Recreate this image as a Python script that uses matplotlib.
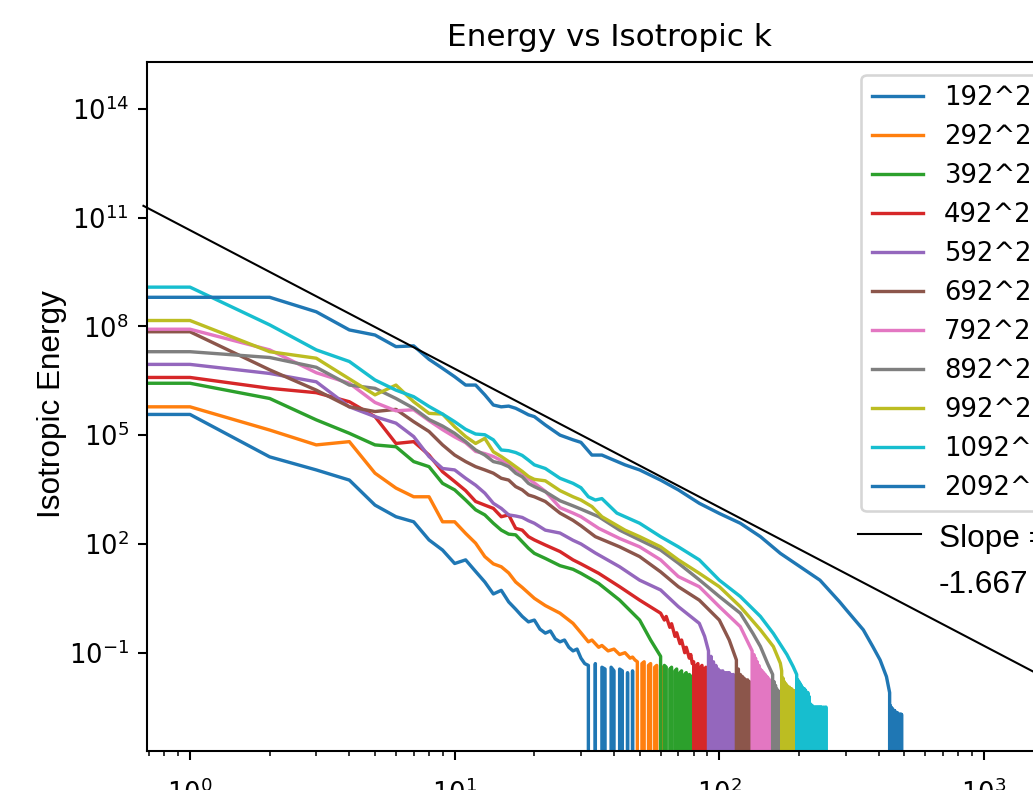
import matplotlib
matplotlib.use("Agg")
import matplotlib.pyplot as plt
from matplotlib.lines import Line2D
from matplotlib.ticker import NullLocator
import numpy as np

# figure is a crop of a bigger render: 1033x790 px at ~186 dpi
W, H, DPI = 1033, 790, 186.4

LABELS = ["192^2", "292^2", "392^2", "492^2", "592^2", "692^2",
          "792^2", "892^2", "992^2", "1092^2", "2092^2"]

K20 = list(range(1, 21))

# log10(energy) at k, then a tail of bins (None = empty bin)
K_192 = list(range(1, 31))
LOGE_192 = [5.57, 4.40, 4.04, 3.76, 3.07, 2.75, 2.61, 2.11, 1.83, 1.46,
            1.56, 1.24, 0.95, 0.62, 0.72, 0.40, 0.20, 0.00, -0.15, -0.10,
            -0.35, -0.46, -0.40, -0.62, -0.70, -0.65, -0.85, -0.95, -0.90, -1.15]
TAIL_192 = (31, [-1.30, -1.35, None, -1.30, None, -1.40, -1.45, None, -1.40,
                 -1.50, None, -1.45, -1.50, None, -1.55, None, -1.50, None])

K_292 = list(range(1, 17)) + [17, 18, 20, 22, 25, 28, 30, 32, 33, 35, 36, 38, 40, 42, 44, 46, 47]
LOGE_292 = [5.78, 5.14, 4.73, 4.82, 3.95, 3.54, 3.30, 3.30, 2.61, 2.61,
            2.29, 2.02, 1.65, 1.45, 1.37, 1.20, 0.95, 0.80, 0.50, 0.30,
            0.09, -0.19, -0.45, -0.70, -0.65, -0.85, -0.80, -0.95, -0.90, -1.05,
            -1.00, -1.15, -1.12]
TAIL_292 = (48, [-1.20, -1.25, None, -1.30, -1.25, None, -1.35, -1.30, None,
                 -1.40, -1.35, None, -1.45, -1.40, None])

K_392 = K20 + [22, 25, 28, 30, 35, 42, 50, 55, 60]
LOGE_392 = [6.43, 6.01, 5.42, 5.05, 4.73, 4.68, 4.27, 4.13, 3.67, 3.49,
            3.21, 2.94, 2.80, 2.57, 2.38, 2.27, 2.25, 2.06, 1.88, 1.74,
            1.60, 1.40, 1.30, 1.19, 0.91, 0.45, -0.10, -0.65, -1.10]
TAIL_392 = (61, [None, -1.35, -1.40, None, -1.45, -1.40, None, -1.50, -1.45, None,
                 -1.55, -1.50, None, -1.60, -1.55, None, -1.60, -1.65, None])

K_492 = K20 + [22, 25, 28, 30, 35, 42, 50, 60, 62, 63, 65, 66, 68, 69, 71, 72, 74, 75, 77, 78]
LOGE_492 = [6.59, 6.29, 6.17, 5.92, 5.51, 4.77, 4.82, 4.45, 3.99, 3.72,
            3.47, 3.17, 3.07, 2.98, 2.75, 2.80, 2.43, 2.38, 2.20, 2.11,
            1.97, 1.79, 1.56, 1.45, 1.19, 0.82, 0.45, 0.09, -0.10, 0.00,
            -0.30, -0.20, -0.55, -0.45, -0.75, -0.65, -1.00, -0.85, -1.15, -1.05]
TAIL_492 = (79, [-1.30, -1.25, None, -1.35, -1.30, None, -1.40, -1.35, None,
                 -1.45, -1.40, -1.50, None])

K_592 = K20 + [22, 25, 28, 30, 34, 42, 50, 60, 70, 84, 88]
LOGE_592 = [6.95, 6.70, 6.47, 5.78, 5.51, 5.33, 4.96, 4.41, 4.08, 4.04,
            3.81, 3.62, 3.40, 3.12, 2.98, 2.80, 2.77, 2.73, 2.64, 2.57,
            2.38, 2.30, 2.10, 2.00, 1.75, 1.37, 1.00, 0.73, 0.27, -0.19,
            -0.55]
TAIL_592 = (91, [-0.95, None, -1.10, None, -1.25, None, -1.35, None, -1.45, None,
                 -1.50, None, -1.50, None, -1.55, None, -1.55, None, -1.55, None,
                 -1.60, None, -1.60, None, -1.65, None, -1.65, None])

K_692 = K20 + [22, 25, 28, 30, 34, 42, 50, 60, 70, 84, 100, 109, 116]
LOGE_692 = [7.85, 6.80, 6.24, 5.78, 5.65, 5.71, 5.37, 5.10, 4.73, 4.45,
            4.27, 4.13, 4.04, 3.95, 3.81, 3.76, 3.58, 3.49, 3.35, 3.30,
            3.17, 2.85, 2.65, 2.50, 2.20, 1.92, 1.65, 1.23, 0.82, 0.45,
            -0.10, -0.65, -1.20]
TAIL_692 = (117, [None, -1.45, None, -1.60, None, -1.65, None, -1.70, None, -1.75,
                  None, -1.75, None, -1.80, None, -1.85, None, -1.85, None, -1.90, None])

K_792 = K20 + [22, 25, 28, 30, 35, 42, 50, 60, 70, 84, 100, 120, 127, 133]
LOGE_792 = [7.92, 7.35, 6.72, 6.43, 5.90, 5.67, 5.70, 5.40, 5.15, 4.95,
            4.79, 4.55, 4.49, 4.41, 4.30, 4.20, 4.05, 3.95, 3.80, 3.68,
            3.45, 3.00, 2.85, 2.75, 2.43, 2.15, 1.92, 1.56, 1.10, 0.82,
            0.27, -0.28, -0.65, -0.95]
TAIL_792 = (134, [None, -1.05, None, -1.15, None, -1.25, None, -1.35, None, -1.45,
                  None, -1.50, None, -1.55, None, -1.60, None, -1.65, None, -1.70,
                  None, -1.75, None, -1.80, None, -1.85, None])

K_892 = K20 + [22, 25, 28, 30, 35, 42, 50, 60, 70, 84, 100, 120, 134, 143, 152, 159]
LOGE_892 = [7.30, 7.14, 6.87, 6.38, 6.29, 6.01, 5.74, 5.43, 5.25, 5.05,
            4.82, 4.59, 4.45, 4.27, 4.22, 4.13, 3.95, 3.85, 3.67, 3.58,
            3.44, 3.19, 3.05, 2.96, 2.75, 2.38, 2.11, 1.83, 1.47, 1.01,
            0.55, 0.09, -0.47, -0.83, -1.29, -1.60]
TAIL_892 = (160, [None, -1.80, None, -1.90, None, -2.00, None, -2.05, None, -2.10,
                  None, -2.10, -2.15, None])

K_992 = K20 + [22, 25, 28, 30, 33, 36, 44, 50, 60, 70, 84, 100, 120, 143, 160, 170, 172]
LOGE_992 = [8.16, 7.30, 7.12, 6.55, 6.11, 6.38, 5.92, 5.60, 5.58, 5.23,
            4.96, 4.77, 4.91, 4.54, 4.41, 4.27, 4.13, 4.00, 3.86, 3.78,
            3.74, 3.47, 3.30, 3.21, 3.03, 2.75, 2.38, 2.20, 1.92, 1.56,
            1.19, 0.82, 0.27, -0.37, -0.83, -1.29, -1.50]
TAIL_992 = (173, [None, -1.70, None, -1.80, None, -1.85, None, -1.90, None, -1.95,
                  None, -1.95, None, -2.00, None, -2.00, None, -2.05, None, -2.05,
                  None, -2.10, None, -2.10, -2.10, None])

K_1092 = K20 + [22, 25, 28, 30, 32, 34, 36, 41, 50, 60, 70, 84, 100, 120, 143, 160, 180, 190, 196]
LOGE_1092 = [9.08, 8.04, 7.35, 7.03, 6.52, 6.24, 6.06, 5.79, 5.58, 5.37,
             5.16, 5.03, 5.01, 4.87, 4.59, 4.57, 4.52, 4.44, 4.31, 4.18,
             4.08, 3.81, 3.67, 3.55, 3.30, 3.21, 3.25, 2.85, 2.57, 2.20,
             1.92, 1.56, 1.00, 0.55, 0.00, -0.47, -1.05, -1.38, -1.60]
TAIL_1092 = (197, [None, -1.75, None, -1.80, None, -1.85, None, -1.90, None, -1.95,
                   None, -2.00, None, -2.00, None, -2.05, None, -2.10, None, -2.10,
                   None, -2.20, None, -2.40, None, -2.45, None, -2.45, None, -2.50,
                   None, -2.50, None, -2.50, None, -2.50, None, -2.50, None, -2.50,
                   None, -2.50, None, -2.50, None, -2.50, None, -2.50, None, -2.55,
                   None, -2.50, None, -2.55, None, -2.50, -2.50, None])

K_2092 = K20 + [22, 25, 28, 30, 33, 36, 44, 50, 60, 70, 84, 100, 120, 143, 170, 202,
                240, 285, 302, 350, 380, 405, 428, 440]
LOGE_2092 = [8.80, 8.80, 8.40, 7.90, 7.76, 7.44, 7.46, 7.09, 6.84, 6.61,
             6.38, 6.38, 6.11, 5.83, 5.78, 5.80, 5.74, 5.65, 5.56, 5.51,
             5.28, 5.00, 4.87, 4.80, 4.45, 4.45, 4.18, 4.04, 3.76, 3.49,
             3.12, 2.84, 2.57, 2.20, 1.74, 1.37, 1.00, 0.40, 0.18, -0.37,
             -0.83, -1.20, -1.66, -2.10]
TAIL_2092 = (441, [None, -2.45, None, -2.50, None, -2.50, None, -2.55, None, -2.55,
                   None, -2.55, None, -2.60, None, -2.60, None, -2.60, None, -2.60,
                   None, -2.65, None, -2.65, None, -2.65, None, -2.65, None, -2.65,
                   None, -2.70, None, -2.70, None, -2.70, None, -2.70, None, -2.70,
                   None, -2.70, None, -2.70, None, -2.70, None, -2.70, None])

SERIES = [(K_192, LOGE_192, TAIL_192), (K_292, LOGE_292, TAIL_292),
          (K_392, LOGE_392, TAIL_392), (K_492, LOGE_492, TAIL_492),
          (K_592, LOGE_592, TAIL_592), (K_692, LOGE_692, TAIL_692),
          (K_792, LOGE_792, TAIL_792), (K_892, LOGE_892, TAIL_892),
          (K_992, LOGE_992, TAIL_992), (K_1092, LOGE_1092, TAIL_1092),
          (K_2092, LOGE_2092, TAIL_2092)]

# reference power law drawn over the spectra
SLOPE = -3.82
LOGE_AT_K1 = 10.65
K_FIT = [10 ** -0.176, 10 ** 3.5]

Y_TICKS = [1e-1, 1e2, 1e5, 1e8, 1e11, 1e14]


def build(k_body, loge_body, tail):
    start, vals = tail
    # k = 0 bin first (same level as k = 1), then body, then the tail bins
    k = [0] + list(k_body) + list(range(start, start + len(vals)))
    e = [10 ** loge_body[0]] + [10 ** v for v in loge_body]
    e += [0.0 if v is None else 10 ** v for v in vals]
    return np.array(k, dtype=float), np.array(e)


fig = plt.figure(figsize=(W / DPI, H / DPI), dpi=DPI)
ax = fig.add_axes([147 / W, 39 / H, 924.6 / W, 689 / H])

for (kb, lb, tail), label in zip(SERIES, LABELS):
    k, e = build(kb, lb, tail)
    ax.plot(k, e, lw=1.3, label=label)

k_fit = np.array(K_FIT)
ax.plot(k_fit, 10 ** LOGE_AT_K1 * k_fit ** SLOPE, color="black", lw=0.8, clip_on=False)

ax.set_xscale("log")
ax.set_yscale("log")
ax.set_xlim(10 ** -0.1625, 10 ** 3.331)
ax.set_ylim(10 ** -3.71, 10 ** 15.288)
ax.set_yticks(Y_TICKS)
ax.yaxis.set_minor_locator(NullLocator())
# x tick labels sit low, the crop cuts through them as in the reference
ax.tick_params(axis="x", which="major", pad=7.5)
ax.set_title("Energy vs Isotropic k")
ax.legend(loc="upper right")

# hand-added annotations (Arial-like font)
fig.text(52 / W, 1 - 404 / H, "Isotropic Energy", rotation=90, ha="center", va="center",
         fontsize=12.2, family="Liberation Sans")
fig.add_artist(Line2D([858 / W, 921 / W], [1 - 534 / H, 1 - 534 / H], color="black",
                      lw=0.8, transform=fig.transFigure))
fig.text(939 / W, 1 - 547 / H, "Slope =", fontsize=12.2, family="Liberation Sans",
         va="baseline")
fig.text(939 / W, 1 - 593 / H, "-1.667", fontsize=12.2, family="Liberation Sans",
         va="baseline")

fig.savefig("out.png", dpi=DPI)
